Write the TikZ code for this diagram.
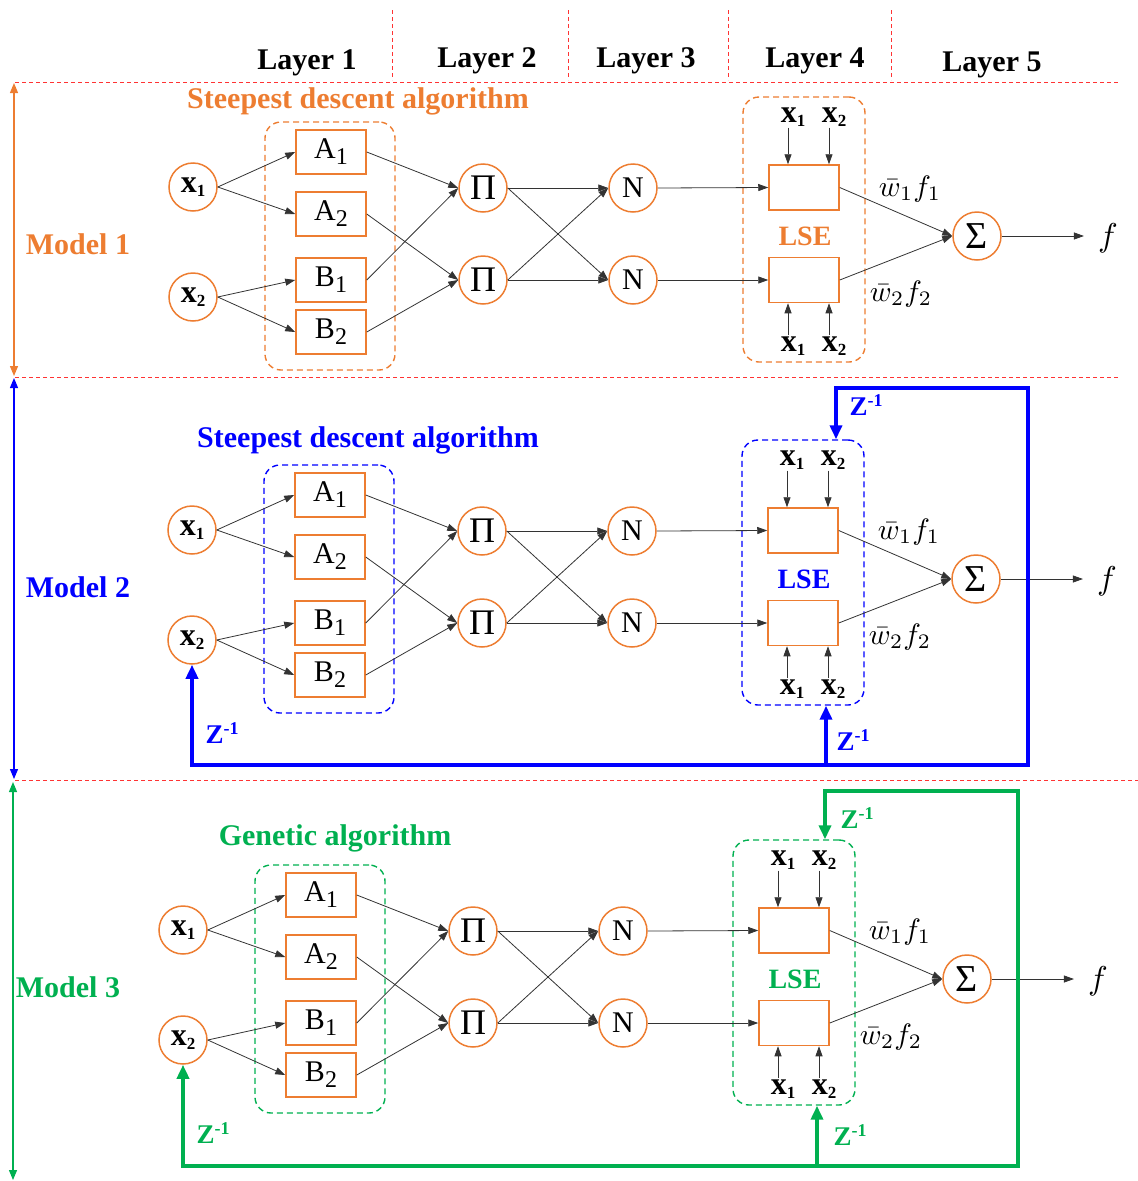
\documentclass[tikz,border=0pt]{standalone}
\usepackage{fontspec}
\setmainfont{Liberation Serif}
\usetikzlibrary{arrows.meta,calc}
\definecolor{ora}{HTML}{ED7D31}
\definecolor{blu}{HTML}{0000FF}
\definecolor{grn}{HTML}{00B050}
\definecolor{sep}{HTML}{FF3333}
\newcommand\fs[1]{\fontsize{#1}{#1}\selectfont}
\newcommand\xvar[1]{{\fs{32}\bfseries x\raisebox{-4pt}{\fs{17}#1}}}
\newcommand\mfl[2]{{\fs{30}#1\raisebox{-6pt}{\fs{24}#2}}}
\newcommand\zinv{{\fs{27}\bfseries Z\raisebox{9pt}{\fs{18}-1}}}
\newcommand\wf[1]{\scalebox{2.95}{$\bar w_{#1} f_{#1}$}}
\tikzset{
 neuron/.style={circle,draw=ora,line width=1.5pt,minimum size=48pt,inner sep=0pt},
 mfbox/.style={draw=ora,line width=1.5pt,minimum width=70pt,minimum height=44pt,inner sep=0pt},
 lserect/.style={draw=ora,line width=1.5pt,minimum width=70pt,minimum height=45pt,inner sep=0pt},
 arr/.style={draw=black!80,line width=0.8pt,-{Triangle[length=10pt,width=7pt]}},
 grp/.style={draw=#1,dash pattern=on 6pt off 4pt,line width=1.4pt,rounded corners=16pt,inner sep=0pt},
 ttl/.style={text=#1,font=\fs{30}\bfseries,inner sep=0pt},
 sepline/.style={draw=sep,line width=0.9pt,dash pattern=on 4pt off 3pt},
 spanarr/.style={draw=#1,line width=1.2pt,{Triangle[length=10pt,width=8pt]}-{Triangle[length=10pt,width=8pt]}},
 fbboth/.style={draw=#1,line width=3.5pt,{Triangle[length=14pt,width=12pt]}-{Triangle[length=14pt,width=12pt]}},
 fbarr/.style={draw=#1,line width=3.5pt,-{Triangle[length=14pt,width=12pt]}},
 zlab/.style={text=#1,inner sep=0pt},
}
\newcommand\anfis[3]{%
\begin{scope}[shift={#2}]
\node[grp=#3,minimum width=130pt,minimum height=248pt] (#1fz) at (330,246) {};
\node[grp=#3,minimum width=122pt,minimum height=265pt] (#1lse) at (804,229.5) {};
\node[neuron] (#1x1) at (193,187) {\xvar{1}};
\node[neuron] (#1x2) at (193,297) {\xvar{2}};
\node[mfbox] (#1A1) at (331,152) {\mfl{A}{1}};
\node[mfbox] (#1A2) at (331,214) {\mfl{A}{2}};
\node[mfbox] (#1B1) at (331,280) {\mfl{B}{1}};
\node[mfbox] (#1B2) at (331,332) {\mfl{B}{2}};
\node[neuron] (#1P1) at (483,188) {\fs{36}Π};
\node[neuron] (#1P2) at (483,280) {\fs{36}Π};
\node[neuron] (#1N1) at (633,188) {\fs{30}N};
\node[neuron] (#1N2) at (633,280) {\fs{30}N};
\node[lserect] (#1R1) at (804,187.5) {};
\node[lserect] (#1R2) at (804,280) {};
\node[inner sep=1pt] (#1t1) at (793,117) {\xvar{1}};
\node[inner sep=1pt] (#1t2) at (834,117) {\xvar{2}};
\node[inner sep=1pt] (#1b1) at (793,346) {\xvar{1}};
\node[inner sep=1pt] (#1b2) at (834,346) {\xvar{2}};
\node[text=#3,font=\fs{28}\bfseries,inner sep=0pt] (#1lsel) at (805,236) {LSE};
\node[neuron] (#1S) at (977,236) {\fs{38}Σ};
\node[inner sep=0pt] (#1f) at (1108,238) {\scalebox{3.3}{$f$}};
\node[inner sep=0pt] (#1w1) at (910,189) {\wf{1}};
\node[inner sep=0pt] (#1w2) at (901,294) {\wf{2}};
\draw[arr] (#1x1.east) -- (#1A1.west);
\draw[arr] (#1x1.east) -- (#1A2.west);
\draw[arr] (#1x2.east) -- (#1B1.west);
\draw[arr] (#1x2.east) -- (#1B2.west);
\draw[arr] (#1A1.east) -- (#1P1.west);
\draw[arr] (#1B1.east) -- (#1P1.west);
\draw[arr] (#1A2.east) -- (#1P2.west);
\draw[arr] (#1B2.east) -- (#1P2.west);
\draw[arr] (#1P1.east) -- (#1N1.west);
\draw[arr] (#1P1.east) -- (#1N2.west);
\draw[arr] (#1P2.east) -- (#1N1.west);
\draw[arr] (#1P2.east) -- (#1N2.west);
\draw[arr] (#1N1.east) -- (#1R1.west);
\draw[arr] (#1N2.east) -- (#1R2.west);
\draw[arr] ([xshift=-5pt]#1t1.south) -- ([xshift=-5pt]#1t1.south |- #1R1.north);
\draw[arr] ([xshift=-5pt]#1t2.south) -- ([xshift=-5pt]#1t2.south |- #1R1.north);
\draw[arr] ([xshift=-5pt]#1b1.north) -- ([xshift=-5pt]#1b1.north |- #1R2.south);
\draw[arr] ([xshift=-5pt]#1b2.north) -- ([xshift=-5pt]#1b2.north |- #1R2.south);
\draw[arr] (#1R1.east) -- (#1S.west);
\draw[arr] (#1R2.east) -- (#1S.west);
\draw[arr] (#1S.east) -- ([xshift=-14pt]#1f.west |- #1S.east);
\end{scope}}
\begin{document}
\begin{tikzpicture}[x=1pt,y=-1pt]
\useasboundingbox (0,0) rectangle (1138,1181);
% separators
\draw[sepline] (15,82) -- (1120,82);
\draw[sepline] (15,377) -- (1120,377);
\draw[sepline] (15,780) -- (1138,780);
\draw[sepline] (392,10) -- (392,80);
\draw[sepline] (568,10) -- (568,80);
\draw[sepline] (728,10) -- (728,80);
\draw[sepline] (891,10) -- (891,80);
% layer labels
\node[ttl=black] (L1) at (307,63) {Layer 1};
\node[ttl=black] (L2) at (487,61) {Layer 2};
\node[ttl=black] (L3) at (646,61) {Layer 3};
\node[ttl=black] (L4) at (815,61) {Layer 4};
\node[ttl=black] (L5) at (992,65) {Layer 5};
% model spans
\draw[spanarr=ora] (14,83) -- (14,376);
\draw[spanarr=blu] (14,378) -- (14,779);
\draw[spanarr=grn] (13,782) -- (13,1180);
\node[ttl=ora] (M1) at (78,244) {Model 1};
\node[ttl=blu] (M2) at (78,587) {Model 2};
\node[ttl=grn] (M3) at (68,987) {Model 3};
% titles
\node[ttl=ora] (T1) at (358,101) {Steepest descent algorithm};
\node[ttl=blu] (T2) at (368,440) {Steepest descent algorithm};
\node[ttl=grn] (T3) at (335,838) {Genetic algorithm};
% models
\anfis{a}{(0,0)}{ora}
\anfis{b}{(-1,343)}{blu}
\anfis{c}{(-10,743)}{grn}
% feedback model 2
\coordinate (btop) at (1028,388);
\coordinate (bbot) at (1028,765);
\draw[fbboth=blu] (bx2.south) |- (bbot) -- (btop) -| ([xshift=33pt]blse.north);
\draw[fbarr=blu] ([xshift=23pt]blse.south |- bbot) -- ([xshift=23pt]blse.south);
\node[zlab=blu] (bz1) at (866,405) {\zinv};
\node[zlab=blu] (bz2) at (222,733) {\zinv};
\node[zlab=blu] (bz3) at (853,740) {\zinv};
% feedback model 3
\coordinate (ctop) at (1018,791);
\coordinate (cbot) at (1018,1166);
\draw[fbboth=grn] (cx2.south) |- (cbot) -- (ctop) -| ([xshift=31pt]clse.north);
\draw[fbarr=grn] ([xshift=23pt]clse.south |- cbot) -- ([xshift=23pt]clse.south);
\node[zlab=grn] (cz1) at (857,818) {\zinv};
\node[zlab=grn] (cz2) at (213,1133) {\zinv};
\node[zlab=grn] (cz3) at (850,1135) {\zinv};
\end{tikzpicture}
\end{document}
